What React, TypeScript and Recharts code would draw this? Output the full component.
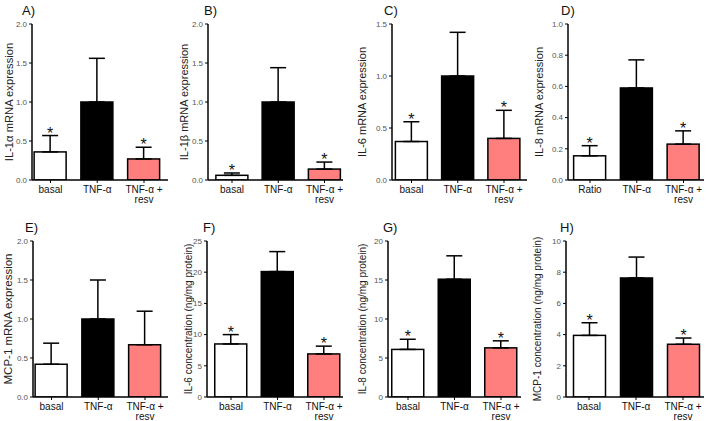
import React from 'react'
import { BarChart, Bar, XAxis, YAxis, ErrorBar } from 'recharts'

// group labels
const groups = ['basal', 'TNF-α', 'TNF-α + resv']
const groupsD = ['Ratio', 'TNF-α', 'TNF-α + resv']

// mean values and upper SEM per panel
const il1aMeans = [0.36, 1.0, 0.27]
const il1aErrors = [0.21, 0.56, 0.15]
const il1bMeans = [0.06, 1.0, 0.14]
const il1bErrors = [0.03, 0.44, 0.09]
const il6Means = [0.37, 1.0, 0.4]
const il6Errors = [0.19, 0.42, 0.27]
const il8Means = [0.155, 0.59, 0.23]
const il8Errors = [0.065, 0.18, 0.085]
const mcp1Means = [0.42, 1.0, 0.67]
const mcp1Errors = [0.27, 0.5, 0.43]
const il6ConcMeans = [8.5, 20.1, 6.9]
const il6ConcErrors = [1.5, 3.2, 1.25]
const il8ConcMeans = [6.1, 15.1, 6.3]
const il8ConcErrors = [1.3, 3.0, 0.9]
const mcp1ConcMeans = [3.95, 7.63, 3.38]
const mcp1ConcErrors = [0.81, 1.34, 0.4]

// significance marks (*)
const sigAll = [true, false, true]
const sigNone = [false, false, false]

// y ticks
const ticks2 = [0, 0.5, 1.0, 1.5, 2.0]
const ticks15 = [0, 0.5, 1.0, 1.5]
const ticks1 = [0, 0.2, 0.4, 0.6, 0.8, 1.0]
const ticks25 = [0, 5, 10, 15, 20, 25]
const ticks20 = [0, 5, 10, 15, 20]
const ticks10 = [0, 2, 4, 6, 8, 10]

const barColors = ['#ffffff', '#000000', '#ff7f7f']
const FONT = '"Liberation Sans", Arial, sans-serif'

const buildRows = (cats: string[], means: number[], errors: number[], sig: boolean[]) =>
  cats.map((name, i) => ({ name, mean: means[i], up: errors[i], err: [0, errors[i]], sig: sig[i] }))

const panels = [
  { letter: 'A)', title: 'IL-1α mRNA expression', titleSize: 11.2, titleX: 9, letterX: 22, row: 0, axisX: 32, axisEnd: 168, first: 50.5, last: 144, ticks: ticks2, dec: 1, data: buildRows(groups, il1aMeans, il1aErrors, sigAll) },
  { letter: 'B)', title: 'IL-1β mRNA expression', titleSize: 11, titleX: 184, letterX: 204, row: 0, axisX: 208, axisEnd: 343, first: 232, last: 324.5, ticks: ticks2, dec: 1, data: buildRows(groups, il1bMeans, il1bErrors, sigAll) },
  { letter: 'C)', title: 'IL-6 mRNA expression', titleSize: 11, titleX: 362, letterX: 384, row: 0, axisX: 392, axisEnd: 527, first: 411.5, last: 504, ticks: ticks15, dec: 1, data: buildRows(groups, il6Means, il6Errors, sigAll) },
  { letter: 'D)', title: 'IL-8 mRNA expression', titleSize: 11, titleX: 539, letterX: 561, row: 0, axisX: 568, axisEnd: 704, first: 590, last: 683.5, ticks: ticks1, dec: 1, data: buildRows(groupsD, il8Means, il8Errors, sigAll) },
  { letter: 'E)', title: 'MCP-1 mRNA expression', titleSize: 11.5, titleX: 8, letterX: 25, row: 1, axisX: 33, axisEnd: 168, first: 51.5, last: 145, ticks: ticks2, dec: 1, data: buildRows(groups, mcp1Means, mcp1Errors, sigNone) },
  { letter: 'F)', title: 'IL-6 concentration (ng/mg protein)', titleSize: 10, titleX: 188, letterX: 203, row: 1, axisX: 207, axisEnd: 343, first: 231, last: 324, ticks: ticks25, dec: 0, data: buildRows(groups, il6ConcMeans, il6ConcErrors, sigAll) },
  { letter: 'G)', title: 'IL-8 concentration (ng/mg protein)', titleSize: 10, titleX: 362, letterX: 383, row: 1, axisX: 388, axisEnd: 521, first: 408, last: 501, ticks: ticks20, dec: 0, data: buildRows(groups, il8ConcMeans, il8ConcErrors, sigAll) },
  { letter: 'H)', title: 'MCP-1 concentration (ng/mg protein)', titleSize: 10, titleX: 537, letterX: 560, row: 1, axisX: 566, axisEnd: 704, first: 589, last: 683, ticks: ticks10, dec: 0, data: buildRows(groups, mcp1ConcMeans, mcp1ConcErrors, sigAll) },
]

const ROW_TOP = [0, 217]
const PLOT_TOP = 24
const CHART_H = 210
const X_AXIS_H = 30
const LEFT_PAD = 40

const BarShape = (props: any) => {
  const { x, y, width, height, payload, index } = props
  const ppu = payload.mean ? height / payload.mean : 0
  const capY = y - payload.up * ppu
  return (
    <g>
      <rect x={x} y={y} width={width} height={height} fill={barColors[index % 3]} stroke="#000" strokeWidth={1.5} />
      {payload.sig && (
        <text x={x + width / 2} y={capY + 3} textAnchor="middle" fontSize={16} fill="#111">*</text>
      )}
    </g>
  )
}

const GroupTick = ({ x, y, payload }: any) => {
  const parts = String(payload.value).split(' + ')
  return (
    <g transform={`translate(${x},${y})`}>
      <text textAnchor="middle" fontSize={10} fill="#111">
        <tspan x={0} dy={10}>{parts.length > 1 ? parts[0] + ' +' : parts[0]}</tspan>
        {parts.length > 1 && <tspan x={0} dy={10}>{parts[1]}</tspan>}
      </text>
    </g>
  )
}

function Panel({ p }: { p: any }) {
  const band = (p.last - p.first) / 2
  const rangeStart = p.first - band / 2
  const rangeEnd = p.last + band / 2
  const plotW = p.axisEnd - p.axisX
  const width = LEFT_PAD + plotW + 4
  return (
    <div style={{ position: 'absolute', left: p.axisX - LEFT_PAD, top: ROW_TOP[p.row] }}>
      <BarChart width={width} height={CHART_H} data={p.data} margin={{ top: PLOT_TOP, right: 4, bottom: 0, left: LEFT_PAD - 30 }}>
        <XAxis
          dataKey="name"
          height={X_AXIS_H}
          axisLine={{ stroke: '#000', strokeWidth: 1.5 }}
          tickLine={{ stroke: '#000' }}
          tickSize={3}
          tickMargin={0}
          interval={0}
          tick={<GroupTick />}
          padding={{ left: rangeStart - p.axisX, right: p.axisEnd - rangeEnd }}
        />
        <YAxis
          width={30}
          domain={[0, p.ticks[p.ticks.length - 1]]}
          ticks={p.ticks}
          tickFormatter={(v: number) => v.toFixed(p.dec)}
          axisLine={{ stroke: '#000', strokeWidth: 1.5 }}
          tickLine={{ stroke: '#000' }}
          tickSize={3}
          tickMargin={2}
          tick={{ fontSize: 8, fill: '#555' }}
          allowDataOverflow
        />
        <Bar dataKey="mean" barSize={32} shape={<BarShape />} isAnimationActive={false}>
          <ErrorBar dataKey="err" width={8} stroke="#000" strokeWidth={1.5} isAnimationActive={false} />
        </Bar>
      </BarChart>
    </div>
  )
}

export default function App() {
  return (
    <div style={{ position: 'relative', width: 708, height: 421, background: '#fff', fontFamily: FONT, overflow: 'hidden' }}>
      <style>{`body{margin:0}`}</style>
      {panels.map((p) => (
        <Panel key={p.letter} p={p} />
      ))}
      <svg width={708} height={421} style={{ position: 'absolute', left: 0, top: 0, pointerEvents: 'none' }}>
        {panels.map((p) => {
          const top = ROW_TOP[p.row] + PLOT_TOP
          const bottom = ROW_TOP[p.row] + CHART_H - X_AXIS_H
          const mid = (top + bottom) / 2
          return (
            <g key={p.letter}>
              <text x={p.letterX} y={ROW_TOP[p.row] + 15} fontSize={13} fill="#111" fontFamily={FONT}>{p.letter}</text>
              <text
                x={p.titleX}
                y={mid}
                transform={`rotate(-90 ${p.titleX} ${mid})`}
                textAnchor="middle"
                dominantBaseline="central"
                fontSize={p.titleSize}
                fill="#222"
                fontFamily={FONT}
              >
                {p.title}
              </text>
            </g>
          )
        })}
      </svg>
    </div>
  )
}
